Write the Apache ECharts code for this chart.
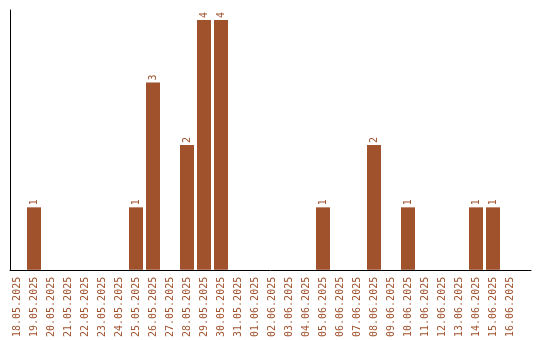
<!DOCTYPE html>
<html><head><meta charset="utf-8">
<script src="https://cdn.jsdelivr.net/npm/echarts@6/dist/echarts.min.js"></script>
<style>html,body{margin:0;padding:0;background:#fff}#c{width:540px;height:340px}</style>
</head><body><div id="c"></div>
<script>
const categories = ["18.05.2025","19.05.2025","20.05.2025","21.05.2025","22.05.2025","23.05.2025","24.05.2025","25.05.2025","26.05.2025","27.05.2025","28.05.2025","29.05.2025","30.05.2025","31.05.2025","01.06.2025","02.06.2025","03.06.2025","04.06.2025","05.06.2025","06.06.2025","07.06.2025","08.06.2025","09.06.2025","10.06.2025","11.06.2025","12.06.2025","13.06.2025","14.06.2025","15.06.2025","16.06.2025"];
const values = [0,1,0,0,0,0,0,1,3,0,2,4,4,0,0,0,0,0,1,0,0,2,0,1,0,0,0,1,1,0];
const color = '#A0522D';
const yMax = 4.16;
const chart = echarts.init(document.getElementById('c'), null, {renderer:'canvas'});
chart.setOption({
  animation:false,
  grid:[
    {left:10,right:9,top:10,bottom:70},
    {left:8.5,width:510,top:10,bottom:70}
  ],
  xAxis:[
    {gridIndex:0,type:'value',min:0,max:1,
      axisLine:{show:true,lineStyle:{color:'#000',width:1}},
      axisTick:{show:false},axisLabel:{show:false},splitLine:{show:false}},
    {gridIndex:1,type:'category',data:categories,
      axisLine:{show:false},
      axisTick:{show:false},
      axisLabel:{rotate:90,interval:0,color:color,fontFamily:'DejaVu Sans Mono',fontSize:10,margin:7}}
  ],
  yAxis:[
    {gridIndex:0,type:'value',min:0,max:yMax,
      axisLine:{show:true,lineStyle:{color:'#000',width:1}},
      axisTick:{show:false},axisLabel:{show:false},splitLine:{show:false}},
    {gridIndex:1,type:'value',min:0,max:yMax,
      axisLine:{show:false},axisTick:{show:false},axisLabel:{show:false},splitLine:{show:false}}
  ],
  series:[{type:'bar',xAxisIndex:1,yAxisIndex:1,data:values.map(v=>v===0?null:v),barWidth:14,
    itemStyle:{color:color},
    label:{show:true,position:'top',rotate:90,align:'left',verticalAlign:'middle',distance:2,color:color,fontFamily:'DejaVu Sans Mono',fontSize:10}}]
});
</script></body></html>
